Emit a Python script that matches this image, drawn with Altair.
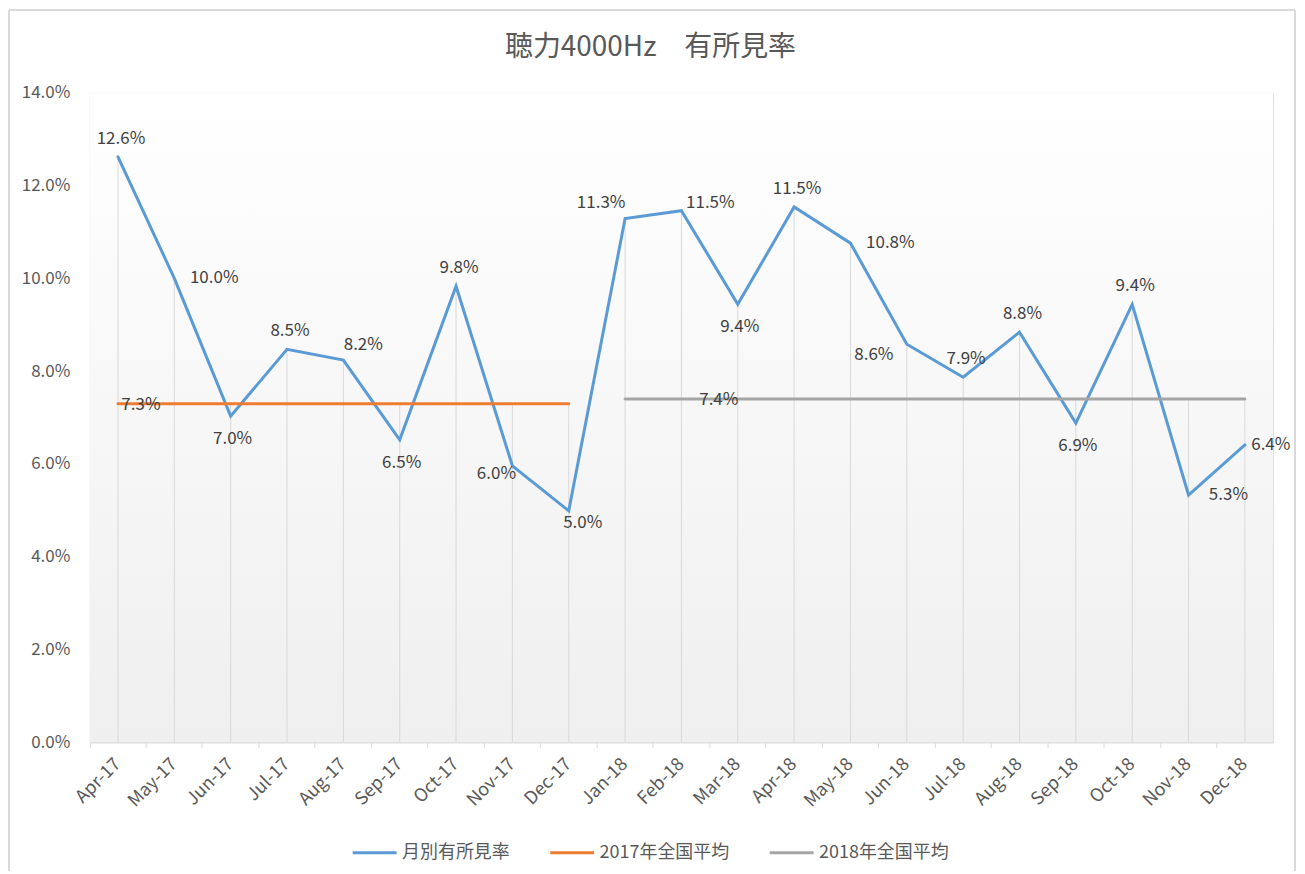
import altair as alt
import pandas as pd

title_text = "聴力4000Hz　有所見率"
months = ["Apr-17", "May-17", "Jun-17", "Jul-17", "Aug-17", "Sep-17", "Oct-17", "Nov-17", "Dec-17",
          "Jan-18", "Feb-18", "Mar-18", "Apr-18", "May-18", "Jun-18", "Jul-18", "Aug-18", "Sep-18",
          "Oct-18", "Nov-18", "Dec-18"]
monthly = [0.1262, 0.1000, 0.0703, 0.0847, 0.0824, 0.0652, 0.0983, 0.0596, 0.0499,
           0.1129, 0.1146, 0.0944, 0.1154, 0.1076, 0.0858, 0.0787, 0.0884, 0.0688,
           0.0944, 0.0533, 0.0641]
avg2017 = 0.073
avg2018 = 0.074
months2017 = months[:9]
months2018 = months[9:]
series_names = ["月別有所見率", "2017年全国平均", "2018年全国平均"]
series_colors = ["#5B9BD5", "#ED7D31", "#A5A5A5"]
label_place = ["above", "right", "below", "above", "upright", "below", "above", "downleft", "downright",
               "upleft", "upright2", "below", "above", "right", "left", "above", "above", "below",
               "above", "right", "right2"]
avg_label_months = ["Apr-17", "Mar-18"]
avg_label_place = ["avg17", "avg18"]

offsets = {
    "above": (3, -18), "below": (2, 23), "right": (40, 0), "right2": (26, 0), "left": (-33, 11),
    "upright": (20, -15), "upright2": (29, -8), "downleft": (-16, 8), "downright": (14, 12),
    "upleft": (-24, -16), "avg17": (23, 1), "avg18": (-19, 1),
}

FONT = "Noto Sans CJK JP"
TXT = "#595959"

rows = []
for m, v in zip(months, monthly):
    rows.append({"month": m, "series": series_names[0], "value": v})
for m in months2017:
    rows.append({"month": m, "series": series_names[1], "value": avg2017})
for m in months2018:
    rows.append({"month": m, "series": series_names[2], "value": avg2018})
df = pd.DataFrame(rows)

drop = pd.DataFrame({"month": months, "value": monthly})
drop["top"] = [max(v, avg2017 if m in months2017 else avg2018) for m, v in zip(months, monthly)]

lab = pd.DataFrame({"month": months + avg_label_months,
                    "value": monthly + [avg2017, avg2018],
                    "place": label_place + avg_label_place})

W, H = 1186, 651
PL, PT, PR, PB = 82, 84, 24, 130
xenc = alt.X("month:N", sort=months, title=None,
             scale=alt.Scale(type="band", paddingInner=0, paddingOuter=0),
             axis=alt.Axis(bandPosition=0, labelAngle=315, labelAlign="right",
                           labelBaseline="middle", labelPadding=14, labelFontSize=18, labelColor=TXT,
                           labelFont=FONT, domainColor="#D9D9D9", tickColor="#D9D9D9", tickSize=5,
                           grid=False))
yscale = alt.Scale(domain=[0, 0.14])
yaxis = alt.Axis(values=[0, 0.02, 0.04, 0.06, 0.08, 0.10, 0.12, 0.14], format=".1%", domain=False,
                 ticks=False, grid=False, labelFontSize=17, labelColor=TXT, labelFont=FONT,
                 labelPadding=20)

one = pd.DataFrame({"a": [0]})
fx0, fx1, fy0, fy1 = -PL + 1, W + PR - 2, -PT + 1, H + PB - 1
frame_top = alt.Chart(one).mark_rule(color="#D9D9D9", strokeWidth=2).encode(
    x=alt.value(fx0), x2=alt.value(fx1), y=alt.value(fy0))
frame_left = alt.Chart(one).mark_rule(color="#D9D9D9", strokeWidth=2).encode(
    x=alt.value(fx0), y=alt.value(fy0), y2=alt.value(fy1))
frame_right = alt.Chart(one).mark_rule(color="#D9D9D9", strokeWidth=2).encode(
    x=alt.value(fx1), y=alt.value(fy0), y2=alt.value(fy1))

title_mark = alt.Chart(pd.DataFrame({"t": [title_text]})).mark_text(
    fontSize=28, font=FONT, color=TXT, align="center", baseline="middle"
).encode(x=alt.value(562), y=alt.value(-45), text="t:N")

bg = alt.Chart(one).mark_rect(
    color=alt.LinearGradient(gradient="linear", x1=0, y1=0, x2=0, y2=1,
                             stops=[alt.GradientStop(offset=0, color="#FFFFFF"),
                                    alt.GradientStop(offset=1, color="#EFEFEF")])
).encode(x=alt.value(0), x2=alt.value(W), y=alt.value(0), y2=alt.value(H))

drops = alt.Chart(drop).mark_rule(color="#D9D9D9", strokeWidth=1).encode(
    x=xenc, y=alt.Y("top:Q", scale=yscale, axis=yaxis, title=None), y2=alt.datum(0))

lines = alt.Chart(df).mark_line(strokeWidth=3, strokeCap="round").encode(
    x=xenc,
    y=alt.Y("value:Q", scale=yscale, axis=yaxis, title=None),
    color=alt.Color("series:N", sort=series_names,
                    scale=alt.Scale(domain=series_names, range=series_colors),
                    legend=alt.Legend(title=None, orient="none", direction="horizontal",
                                      legendX=262, legendY=738, symbolType="stroke",
                                      symbolStrokeWidth=3, symbolSize=1936, labelFontSize=18,
                                      labelColor=TXT, labelFont=FONT, columnPadding=34,
                                      labelOffset=4)),
    detail="series:N")

text_layers = []
for p, (dx, dy) in offsets.items():
    text_layers.append(
        alt.Chart(lab).transform_filter(alt.datum.place == p).mark_text(
            fontSize=17, font=FONT, color="#404040", dx=dx, dy=dy, align="center", baseline="middle"
        ).encode(x=xenc, y=alt.Y("value:Q", scale=yscale), text=alt.Text("value:Q", format=".1%")))

chart = alt.layer(bg, drops, lines, *text_layers, frame_top, frame_left, frame_right,
                  title_mark).properties(
    width=W, height=H,
    autosize=alt.AutoSizeParams(type="none"),
    padding={"left": PL, "top": PT, "right": PR, "bottom": PB},
).configure_view(stroke=None).configure(background="white")

chart.save("out.html", embed_options={"renderer": "svg", "actions": False})
